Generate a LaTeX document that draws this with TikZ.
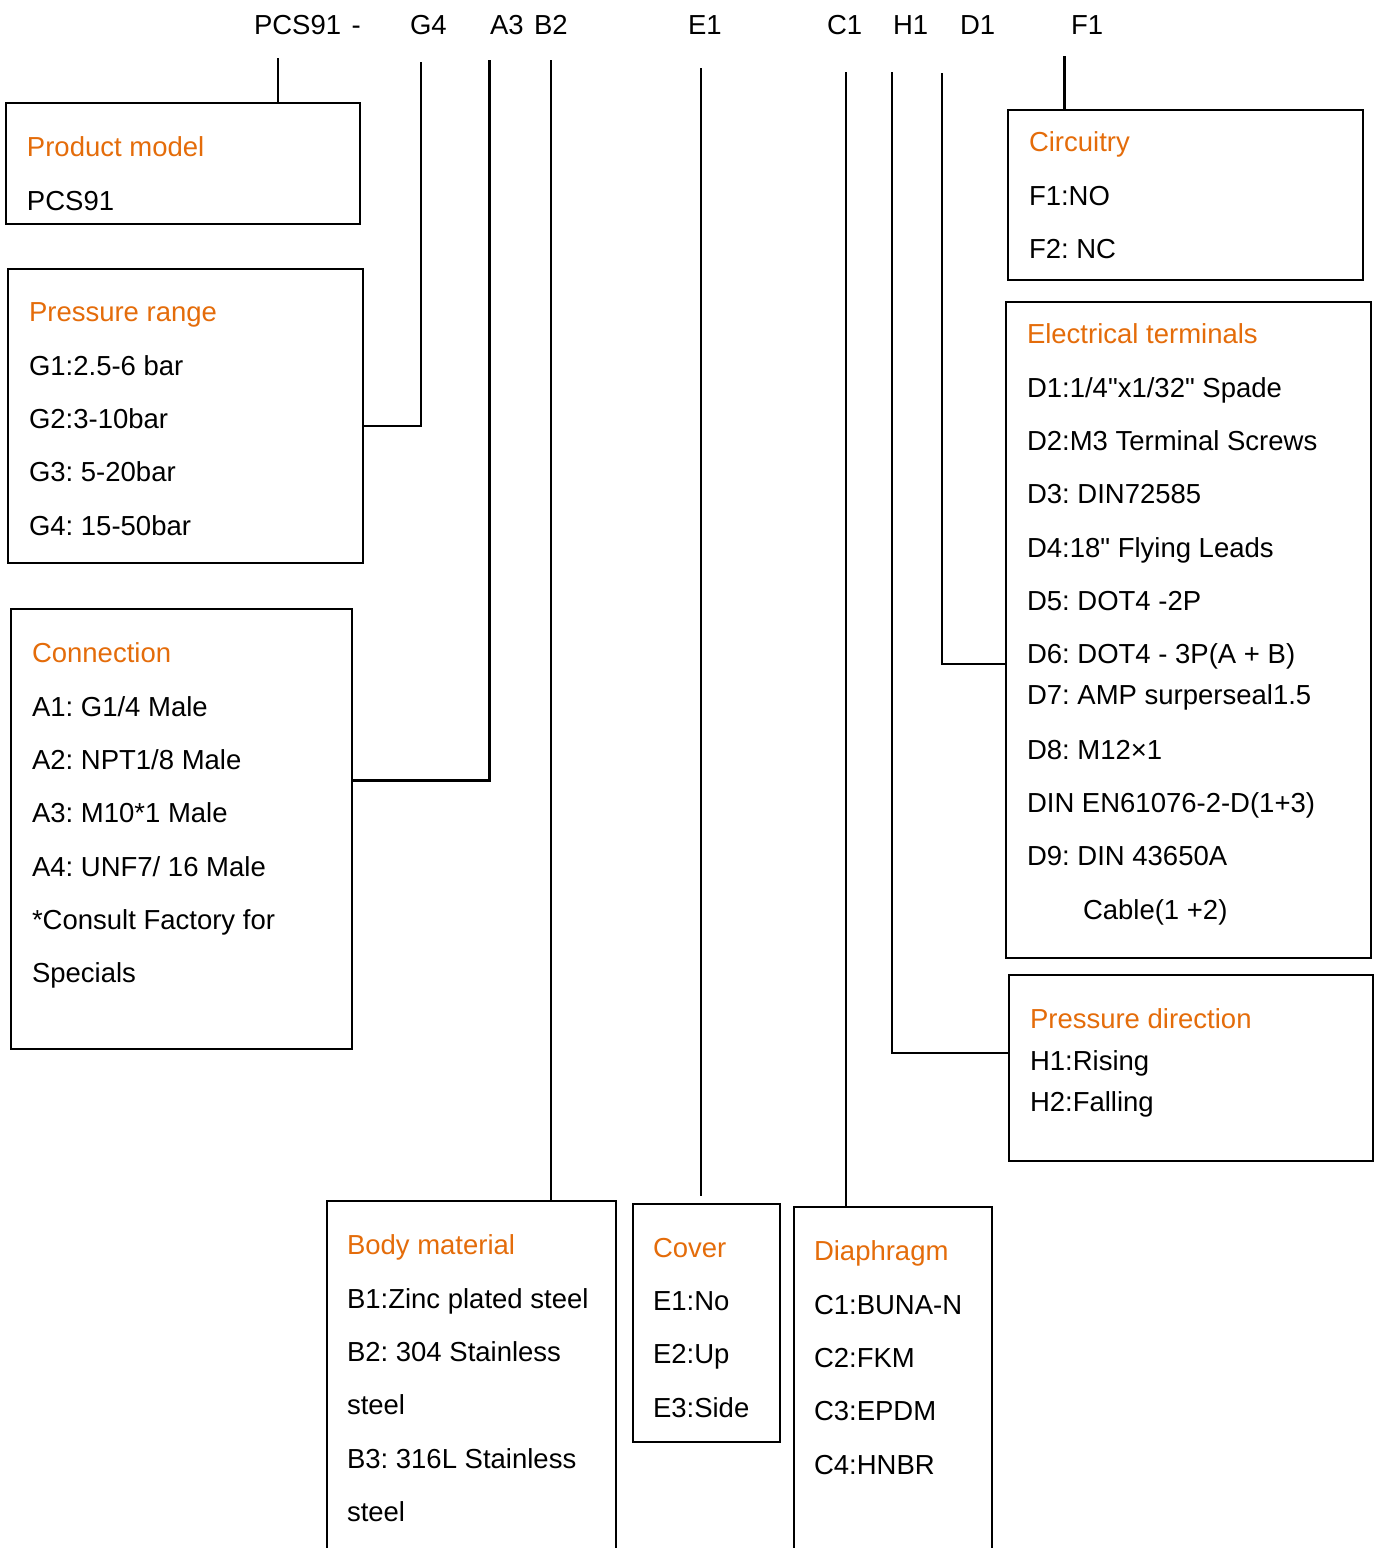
\documentclass[tikz,border=0pt]{standalone}
\usepackage{fontspec}
\setmainfont{Liberation Sans}[Ligatures=TeXOff]
\usepackage{tikz}
\frenchspacing
\definecolor{titleorange}{RGB}{228,108,10}
\newcommand{\ttl}[1]{\textcolor{titleorange}{#1}}
\tikzset{
  box/.style={draw, line width=2pt, rectangle, anchor=north west, inner sep=0pt},
  txt/.style={anchor=north west, inner sep=0pt, align=left},
  lbl/.style={anchor=base west, inner sep=0pt},
  heavy/.style={line width=3pt}
}

\begin{document}
\begin{tikzpicture}[x=1pt, y=-1pt, line width=2pt, font=\fontsize{27.5}{53.3}\selectfont]
      \useasboundingbox (0,0) rectangle (1379,1548);
      \clip (0,0) rectangle (1379,1548);
      \node[lbl] (lbP) at (253,34) {PCS91\hspace{3pt} -};
      \node[lbl] (lbG) at (409,34) {G4};
      \node[lbl] (lbA) at (489,34) {A3};
      \node[lbl] (lbB) at (533,34) {B2};
      \node[lbl] (lbE) at (687,34) {E1};
      \node[lbl] (lbC) at (826,34) {C1};
      \node[lbl] (lbH) at (892,34) {H1};
      \node[lbl] (lbD) at (959,34) {D1};
      \node[lbl] (lbF) at (1070,34) {F1};
      \coordinate (tP) at (278,58);
      \coordinate (tG) at (421,62);
      \coordinate (tA) at (489,60);
      \coordinate (tB) at (551,60);
      \coordinate (tE) at (701,68);
      \coordinate (tC) at (846,72);
      \coordinate (tH) at (892,72);
      \coordinate (tD) at (942,73);
      \coordinate (tF) at (1064,56);
      \node[box, minimum width=354, minimum height=121] (prodbox) at (5,102) {};
      \node[box, minimum width=355, minimum height=294] (rangebox) at (7,268) {};
      \node[box, minimum width=341, minimum height=440] (conbox) at (10,608) {};
      \node[box, minimum width=289, minimum height=420] (bodybox) at (326,1200) {};
      \node[box, minimum width=147, minimum height=238] (covbox) at (632,1203) {};
      \node[box, minimum width=198, minimum height=420] (diabox) at (793,1206) {};
      \node[box, minimum width=364, minimum height=186] (dirbox) at (1008,974) {};
      \node[box, minimum width=365, minimum height=656] (elecbox) at (1005,301) {};
      \node[box, minimum width=355, minimum height=170] (circbox) at (1007,109) {};
      \node[txt] (prodtxt) at (26,136) {\ttl{Product model}\\PCS91};
      \node[txt] (rangetxt) at (28,302) {\ttl{Pressure range}\\G1:2.5-6 bar\\G2:3-10bar\\G3: 5-20bar\\G4: 15-50bar};
      \node[txt] (contxt) at (31,642) {\ttl{Connection}\\A1: G1/4 Male\\A2: NPT1/8 Male\\A3: M10*1 Male\\A4: UNF7/ 16 Male\\*Consult Factory for\\Specials};
      \node[txt] (bodytxt) at (346,1234) {\ttl{Body material}\\B1:Zinc plated steel\\B2: 304 Stainless\\steel\\B3: 316L Stainless\\steel};
      \node[txt] (covtxt) at (652,1237) {\ttl{Cover}\\E1:No\\E2:Up\\E3:Side};
      \node[txt] (diatxt) at (813,1240) {\ttl{Diaphragm}\\C1:BUNA-N\\C2:FKM\\C3:EPDM\\C4:HNBR};
      \node[txt] (dirtxt) at (1029,1008) {\ttl{Pressure direction}\\[-12pt]H1:Rising\\[-12pt]H2:Falling};
      \node[txt] (electxt) at (1026,323) {\ttl{Electrical terminals}\\D1:1/4"x1/32" Spade\\D2:M3 Terminal Screws\\D3: DIN72585\\D4:18" Flying Leads\\D5: DOT4 -2P\\D6: DOT4 - 3P(A + B)\\[-13pt]D7: AMP surperseal1.5\\[2pt]D8: M12×1\\DIN EN61076-2-D(1+3)\\D9: DIN 43650A\\\hspace*{56pt}Cable(1 +2)};
      \node[txt] (circtxt) at (1028,131) {\ttl{Circuitry}\\F1:NO\\F2: NC};
      \draw (tP) -- (tP |- prodbox.north);
      \draw (tG) |- ([yshift=-10pt]rangebox.east);
      \draw[heavy] (tA) |- ([yshift=49pt]conbox.east);
      \draw (tB) -- (tB |- bodybox.north);
      \draw[shorten >=7pt] (tE) -- (tE |- covbox.north);
      \draw (tC) -- (tC |- diabox.north);
      \draw (tH) |- ([yshift=15pt]dirbox.west);
      \draw (tD) |- ([yshift=-34pt]elecbox.west);
      \draw[heavy] (tF) -- (tF |- circbox.north);
    \end{tikzpicture}
\end{document}
